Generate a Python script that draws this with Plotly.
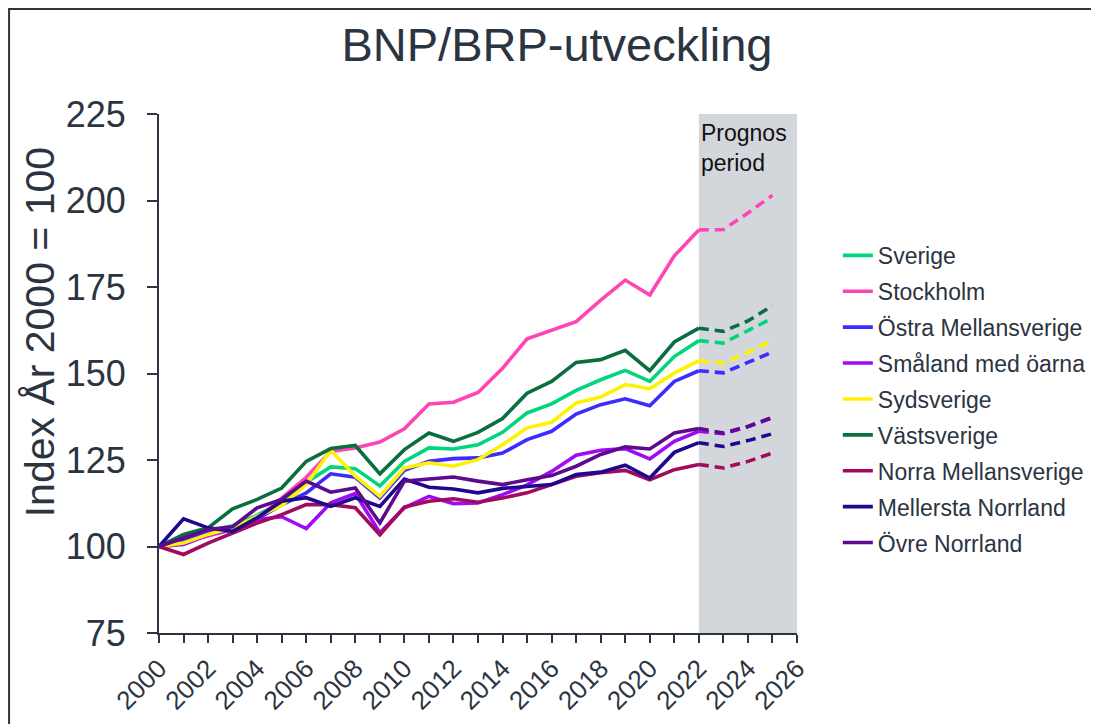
import plotly.graph_objects as go

years = list(range(2000, 2026))
split = 22  # index of 2022, start of forecast

regions = ["Sverige", "Stockholm", "Östra Mellansverige", "Småland med öarna",
           "Sydsverige", "Västsverige", "Norra Mellansverige", "Mellersta Norrland",
           "Övre Norrland"]

sverige = [100, 102.5, 104.5, 106, 109, 113, 118.5, 123, 122.5, 117.5, 124.6, 128.5, 128.2,
           129.4, 133, 138.6, 141.2, 145.1, 148.2, 150.9, 147.7, 154.9, 159.5, 158.8, 162.4, 166]
stockholm = [100, 101.5, 103, 105, 108, 114, 120, 127.5, 128.5, 130.2, 134, 141.2, 141.7,
             144.5, 151.5, 160, 162.6, 165, 171.2, 177, 172.7, 184, 191.5, 191.6, 196.4, 201.5]
ostra = [100, 102, 104, 105.5, 108, 112, 115.5, 121, 120, 114, 122, 124.6, 125.4,
         125.6, 127, 130.9, 133.3, 138.3, 141, 142.7, 140.7, 147.7, 150.8, 150.2, 153.2, 156.2]
smaland = [100, 100.6, 103.3, 104.9, 107.8, 108.6, 105.2, 112.6, 115.3, 104, 111.2, 114.5, 112.4,
           112.6, 115, 117.8, 121.7, 126.4, 127.8, 128.3, 125.3, 130.4, 133.3, 132.6, 134.6, 137.2]
sydsverige = [100, 101, 103.5, 105.4, 108.7, 111.8, 117.9, 127.8, 120.3, 114.5, 122.7, 124.2, 123.2,
              125.1, 129.4, 134.3, 135.9, 141.5, 143.2, 146.8, 145.6, 150.1, 153.7, 153, 156.1, 159.5]
vastsverige = [100, 103.5, 105.4, 110.9, 113.6, 116.9, 124.6, 128.3, 129.2, 121, 128, 132.8, 130.4,
               133, 137, 144.3, 147.7, 153.2, 154, 156.7, 150.8, 159.1, 163.1, 162.2, 165.2, 169.6]
norra_mellan = [100, 97.7, 101, 104, 106.8, 109.2, 112.1, 112.1, 111.2, 103.4, 111.4, 113.1, 113.8,
                112.8, 114, 115.5, 117.9, 120.3, 121.3, 122, 119.3, 122.2, 123.7, 122.7, 124.6, 127]
mellersta = [100, 108, 105.4, 104.4, 108.3, 113.1, 114.1, 111.6, 114.1, 111.6, 119.5, 117.1, 116.6,
             115.5, 116.8, 117.4, 117.9, 120.8, 121.5, 123.5, 119.8, 127.2, 130, 128.9, 130.6, 132.6]
ovre = [100, 102.5, 104.9, 105.7, 111.2, 113.6, 118.9, 115.7, 116.9, 106.8, 118.9, 119.5, 120.1,
        118.9, 117.9, 119.3, 120.5, 123.2, 126.6, 128.8, 128.2, 132.8, 134.1, 132.8, 134.7, 137.3]

series = [sverige, stockholm, ostra, smaland, sydsverige, vastsverige, norra_mellan, mellersta, ovre]
colors = ["#00D67C", "#FF45B5", "#3D2BFF", "#A10AF5", "#FFF200", "#0B6E3F",
          "#A10B5E", "#1F078F", "#5C0B8C"]

y_ticks = [75, 100, 125, 150, 175, 200, 225]
forecast_start, axis_end = 2022, 2026

FONT = "Liberation Sans, Arial, sans-serif"
TXT = "#2B3440"
LW = 3.6

fig = go.Figure()

for name, vals, col in zip(regions, series, colors):
    fig.add_trace(go.Scatter(
        x=years[:split + 1], y=vals[:split + 1], mode="lines", name=name,
        line=dict(color=col, width=LW), legendgroup=name, showlegend=True))
for name, vals, col in zip(regions, series, colors):
    fig.add_trace(go.Scatter(
        x=years[split:], y=vals[split:], mode="lines", name=name,
        line=dict(color=col, width=LW, dash="10px,6px"), legendgroup=name, showlegend=False))

# forecast shaded area
fig.add_shape(type="rect", xref="x", yref="y", x0=forecast_start, x1=axis_end,
              y0=y_ticks[0], y1=y_ticks[-1], fillcolor="#D3D6DB", line_width=0, layer="below")
fig.add_annotation(x=forecast_start, y=y_ticks[-1], xref="x", yref="y", xanchor="left", yanchor="top",
                   xshift=0, yshift=-4, text="Prognos<br>period", showarrow=False, align="left",
                   font=dict(family=FONT, size=23, color="#111111"))

# y-axis title (placed like the original, slightly above the plot centre)
fig.add_annotation(x=-0.186, y=0.58, xref="paper", yref="paper", xanchor="center", yanchor="middle",
                   text="Index År 2000 = 100", textangle=-90, showarrow=False,
                   font=dict(family=FONT, size=41, color=TXT))

# outer frame
fig.add_shape(type="rect", xref="paper", yref="paper", x0=-0.235, x1=2, y0=-2, y1=1.2023,
              line=dict(color="#2B3440", width=2), fillcolor="rgba(0,0,0,0)")

fig.update_layout(
    width=1099, height=724,
    margin=dict(l=151, r=310, t=106, b=99, autoexpand=False),
    paper_bgcolor="white", plot_bgcolor="white",
    title=dict(text="BNP/BRP-utveckling", x=0.4995, xanchor="center", y=0.949, yanchor="middle",
               font=dict(family=FONT, size=47, color=TXT)),
    font=dict(family=FONT, color=TXT),
    showlegend=True,
    legend=dict(x=1.064, xanchor="left", xref="paper", y=0.769, yanchor="top",
                font=dict(family=FONT, size=23, color=TXT), tracegroupgap=3,
                itemwidth=30, bgcolor="rgba(0,0,0,0)"),
    xaxis=dict(range=[2000, axis_end], tickmode="linear", tick0=2000, dtick=2,
               tickangle=-45, ticks="outside", ticklen=8, tickwidth=1.5, tickcolor=TXT,
               showline=True, linecolor=TXT, linewidth=2, showgrid=False, zeroline=False,
               tickfont=dict(family=FONT, size=26, color=TXT),
               minor=dict(dtick=1, ticks="outside", ticklen=8, tickwidth=1.5, tickcolor=TXT,
                          showgrid=False)),
    yaxis=dict(range=[y_ticks[0], y_ticks[-1]], tickvals=y_ticks, ticks="outside", ticklen=10,
               tickwidth=1.5, tickcolor=TXT, showline=True, linecolor=TXT, linewidth=2,
               showgrid=False, zeroline=False, ticklabelstandoff=14,
               tickfont=dict(family=FONT, size=36, color=TXT)),
)

fig.write_html("out.html")
